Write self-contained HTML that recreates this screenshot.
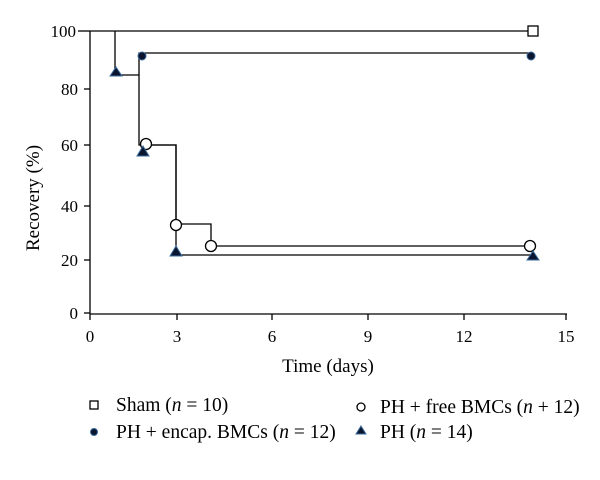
<!DOCTYPE html>
<html><head><style>body{margin:0;background:#fff}</style></head><body>
<svg width="600" height="475" xmlns="http://www.w3.org/2000/svg" font-family="Liberation Serif, serif" fill="#000">
<g stroke="#000" stroke-width="1.3" fill="none">
<line x1="90" y1="31" x2="90" y2="314"/>
<line x1="90" y1="314" x2="567" y2="314"/>
<line x1="78" y1="31" x2="90" y2="31"/><line x1="84" y1="89" x2="90" y2="89"/><line x1="84" y1="145" x2="90" y2="145"/><line x1="84" y1="206" x2="90" y2="206"/><line x1="84" y1="260" x2="90" y2="260"/><line x1="84" y1="313" x2="90" y2="313"/>
<line x1="90" y1="314" x2="90" y2="320"/><line x1="177" y1="314" x2="177" y2="320"/><line x1="272" y1="314" x2="272" y2="320"/><line x1="368" y1="314" x2="368" y2="320"/><line x1="464" y1="314" x2="464" y2="320"/><line x1="566" y1="314" x2="566" y2="320"/>
<polyline points="90,31 533,31"/>
<polyline points="115,31 115,75 139,75 139,145 176,145 176,255 533,255"/>
<polyline points="139,75 139,53 532,53"/>
<polyline points="146,145 176,145 176,224 211,224 211,246 530,246"/>
</g>
<g font-size="17" text-anchor="end">
<text x="76" y="37">100</text><text x="78" y="95">80</text><text x="78" y="151">60</text><text x="78" y="212">40</text><text x="78" y="266">20</text><text x="78" y="319">0</text>
</g>
<g font-size="17" text-anchor="middle">
<text x="90" y="342">0</text><text x="177" y="342">3</text><text x="272" y="342">6</text><text x="368" y="342">9</text><text x="464" y="342">12</text><text x="566" y="342">15</text>
<text x="328" y="372" font-size="19">Time (days)</text>
<text transform="translate(39,198) rotate(-90)" font-size="19">Recovery (%)</text>
</g>
<rect x="528" y="26" width="10" height="10" fill="#fff" stroke="#000" stroke-width="1.3"/>
<circle cx="142" cy="56" r="4" fill="#0a1530" stroke="#3a6a9a"/>
<circle cx="531" cy="56" r="4" fill="#0a1530" stroke="#3a6a9a"/>
<g fill="#fff" stroke="#000" stroke-width="1.3">
<circle cx="146" cy="144" r="5.5"/><circle cx="176" cy="225" r="5.5"/><circle cx="211" cy="246" r="5.5"/><circle cx="530" cy="246" r="5.5"/>
</g>
<g fill="#0a1530" stroke="#3a6a9a" stroke-width="1">
<polygon points="116,67 122,76 110,76"/><polygon points="143,146 149,156 137,156"/><polygon points="176,246 182,256 170,256"/><polygon points="533,251 539,260 527,260"/>
</g>
<rect x="90" y="401" width="8" height="8" fill="#fff" stroke="#000" stroke-width="1.3"/>
<circle cx="94" cy="432" r="3.5" fill="#0a1530" stroke="#3a6a9a"/>
<circle cx="361" cy="407" r="4" fill="#fff" stroke="#000" stroke-width="1.3"/>
<polygon points="361,426 366,434 356,434" fill="#0a1530" stroke="#3a6a9a"/>
<g font-size="19.5">
<text x="116" y="411">Sham (<tspan font-style="italic">n</tspan> = 10)</text>
<text x="116" y="438">PH + encap. BMCs (<tspan font-style="italic">n</tspan> = 12)</text>
<text x="380" y="413">PH + free BMCs (<tspan font-style="italic">n</tspan> + 12)</text>
<text x="380" y="438">PH (<tspan font-style="italic">n</tspan> = 14)</text>
</g>
</svg>
</body></html>
